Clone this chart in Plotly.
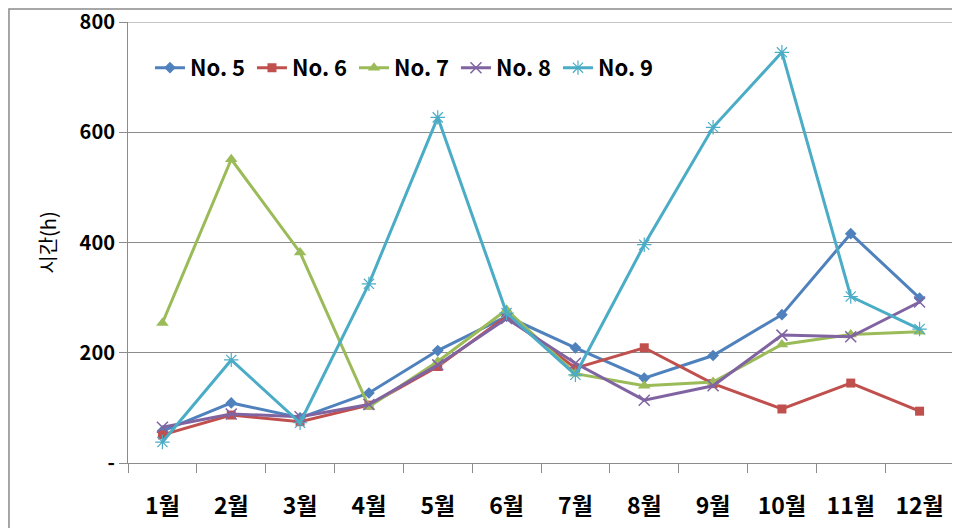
import plotly.graph_objects as go

months = ["1월", "2월", "3월", "4월", "5월", "6월", "7월", "8월", "9월", "10월", "11월", "12월"]
no5 = [58, 109, 82, 127, 204, 266, 209, 154, 195, 269, 416, 299]
no6 = [51, 87, 75, 105, 175, 266, 172, 209, 144, 98, 145, 94]
no7 = [254, 551, 382, 102, 184, 278, 162, 140, 147, 215, 233, 238]
no8 = [65, 89, 84, 106, 178, 262, 181, 114, 140, 232, 229, 292]
no9 = [38, 187, 73, 325, 627, 272, 160, 396, 609, 745, 302, 243]
y_tickvals = [0, 200, 400, 600, 800]
y_ticktext = ["-", "200", "400", "600", "800"]

series = [
    ("No. 5", no5, "#4F81BD", dict(symbol="diamond", size=9)),
    ("No. 6", no6, "#C0504D", dict(symbol="square", size=9)),
    ("No. 7", no7, "#9BBB59", dict(symbol="triangle-up", size=11)),
    ("No. 8", no8, "#8064A2", dict(symbol="x-thin-open", size=11, line=dict(width=1.5, color="#8064A2"))),
    ("No. 9", no9, "#4BACC6", dict(symbol="asterisk-open", size=12, line=dict(width=1.2, color="#4BACC6"))),
]

font_family = "Noto Sans CJK KR"
grid_color = "#8c8c8c"

fig = go.Figure()
for name, vals, color, mk in series:
    fig.add_trace(go.Scatter(
        x=months, y=vals, name=name, mode="lines+markers",
        line=dict(color=color, width=3),
        marker=dict(color=color, **mk),
    ))

fig.update_layout(
    width=960, height=528,
    margin=dict(l=120, r=14, t=14, b=73),
    paper_bgcolor="white", plot_bgcolor="white",
    font=dict(family=font_family, color="black"),
    showlegend=True,
    legend=dict(
        orientation="h", x=0.0266, y=0.896, xanchor="left", yanchor="middle",
        font=dict(size=22, family=font_family, weight="bold"),
        entrywidth=57, entrywidthmode="pixels", itemwidth=30,
        bgcolor="rgba(0,0,0,0)",
    ),
    xaxis=dict(
        type="category", tickson="boundaries", ticks="outside", ticklen=9,
        tickcolor=grid_color, showline=True, linecolor=grid_color, linewidth=1,
        showgrid=False, tickfont=dict(size=23, weight="bold", family=font_family),
        ticklabelstandoff=22, range=[-0.5, 11.5], automargin=False,
    ),
    yaxis=dict(
        range=[0, 800], tickvals=y_tickvals, ticktext=y_ticktext,
        ticks="outside", ticklen=8, tickcolor=grid_color,
        showline=True, linecolor=grid_color, linewidth=1,
        showgrid=True, gridcolor=grid_color, gridwidth=1, zeroline=False,
        tickfont=dict(size=20, weight="bold", family=font_family),
        ticklabeloverflow="allow", automargin=False,
        title=dict(text="시간(h)", font=dict(size=20, family=font_family), standoff=17),
    ),
    shapes=[
        dict(type="line", xref="paper", yref="y", x0=0, x1=1, y0=800, y1=800,
             line=dict(color=grid_color, width=1), layer="above"),
        dict(type="rect", xref="paper", yref="paper",
             x0=-0.1441, x1=1.2, y0=-0.4, y1=1.0295,
             line=dict(color="#8a8a8a", width=1.5), layer="above"),
    ],
)

fig.write_html("out.html")
